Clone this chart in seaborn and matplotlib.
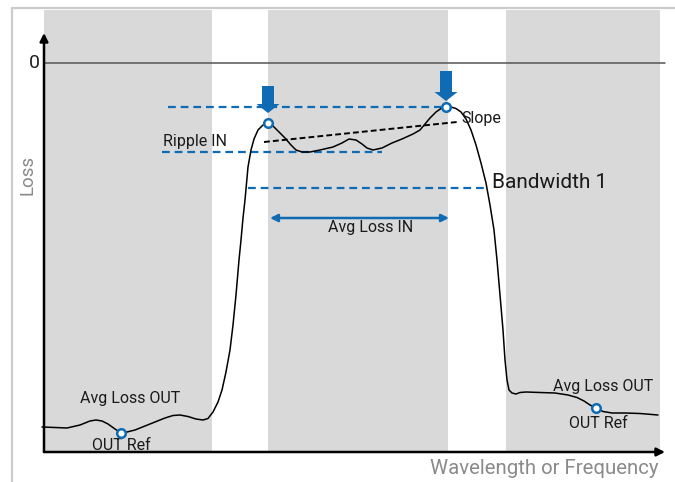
import matplotlib
matplotlib.use("Agg")
import matplotlib.pyplot as plt
from matplotlib.lines import Line2D
from matplotlib.patches import FancyArrow
import seaborn as sns
import pandas as pd

# Filter transmission trace (x: wavelength units, y: loss in dB, 0 at top)
trace_x = [-0.2, 1.1, 2.3, 3.6, 4.6, 5.2, 5.8, 6.4, 7.1, 7.7, 8.3, 9.1, 10.1, 11.1,
           12.1, 12.9, 13.6, 14.4, 15.2, 15.9, 16.4, 16.9, 17.4, 17.8, 18.2, 18.6,
           18.9, 19.2, 19.5, 19.7, 19.9, 20.1, 20.4, 20.7, 21.0, 21.4, 21.9, 22.4,
           22.9, 23.5, 24.1, 24.7, 25.2, 25.8, 26.6, 27.6, 28.9, 29.8, 30.5, 31.2,
           31.8, 32.3, 32.9, 33.8, 34.8, 35.8, 36.9, 37.6, 38.1, 38.6, 39.2, 39.7,
           40.2, 40.7, 41.2, 41.7, 42.2, 42.7, 43.2, 43.7, 44.2, 44.6, 45.0, 45.3,
           45.6, 45.9, 46.1, 46.3, 46.5, 46.8, 47.2, 47.6, 48.2, 49.6, 51.1, 52.4,
           53.3, 54.0, 54.6, 55.2, 55.9, 56.8, 58.1, 59.6, 61.4]
trace_y = [-36.4, -36.45, -36.5, -36.2, -35.8, -35.7, -35.8, -36.1, -36.6, -37.0,
           -36.9, -36.7, -36.3, -35.9, -35.5, -35.25, -35.2, -35.35, -35.6, -35.7,
           -35.55, -34.9, -33.9, -32.7, -30.9, -28.7, -26.2, -23.2, -19.7, -17.7,
           -15.5, -13.7, -10.4, -8.7, -7.6, -6.7, -6.2, -6.0, -6.3, -6.9, -7.5,
           -8.2, -8.7, -8.9, -8.9, -8.7, -8.4, -8.0, -7.6, -7.7, -8.1, -8.5, -8.7,
           -8.5, -8.0, -7.6, -7.1, -6.7, -6.1, -5.5, -4.9, -4.55, -4.4, -4.4, -4.55,
           -4.9, -5.6, -6.7, -8.2, -10.0, -12.0, -14.2, -16.7, -19.7, -23.2, -26.7,
           -29.7, -31.7, -32.7, -33.0, -33.1, -32.95, -32.9, -32.95, -33.0, -33.2,
           -33.45, -33.8, -34.2, -34.5, -34.85, -35.0, -35.0, -35.05, -35.2]

# Reference points: OUT Ref (left), first IN peak, IN max, OUT Ref (right)
ref_x = [7.7, 22.4, 40.2, 55.2]
ref_y = [-37.0, -6.0, -4.4, -34.5]

# Shaded bands (out-of-band / in-band / out-of-band)
band_start = [0.0, 22.4, 46.2]
band_end = [16.8, 40.4, 61.6]

# Level lines: max IN level, min IN level, bandwidth level
level_y = [-4.4, -8.9, -12.5]
level_x0 = [12.4, 11.8, 20.4]
level_x1 = [40.2, 33.8, 44.1]

# Average IN loss span
avg_in_x = [22.6, 40.5]
avg_in_y = -15.5

# Slope fit endpoints
slope_x = [22.0, 41.3]
slope_y = [-7.9, -5.9]

# Peak marker arrows: x, top, bottom
peak_arrow_x = [22.4, 40.2]
peak_arrow_top = [-2.3, -0.8]
peak_arrow_bottom = [-5.0, -3.8]

X_MAX, Y_MIN, Y_TOP, Y_AXIS_TOP = 63.1, -38.9, 5.3, 3.0

BLUE = "#0e6bb4"
GRAY_BAND = "#d9d9d9"
GRAY_TEXT = "#8a8a8a"

sns.set_style("white")
plt.rcParams["font.family"] = ["Roboto", "DejaVu Sans"]

W, H = 675, 482
fig = plt.figure(figsize=(W / 100, H / 100), dpi=100)
ax = fig.add_axes([44 / W, (H - 452) / H, (W - 44) / W, (452 - 10) / H])
ax.set_xlim(0, X_MAX)
ax.set_ylim(Y_MIN, Y_TOP)
ax.axis("off")

# Outer frame
fig.add_artist(Line2D([12 / W, 12 / W], [0, 1 - 8 / H], color="#cccccc", lw=1.6,
                      transform=fig.transFigure))
fig.add_artist(Line2D([12 / W, 1], [1 - 8 / H, 1 - 8 / H], color="#cccccc", lw=1.6,
                      transform=fig.transFigure))

for s, e in zip(band_start, band_end):
    ax.axvspan(s, e, color=GRAY_BAND, lw=0, zorder=0)

# Zero-loss line
ax.plot([0, 62.1], [0, 0], color="#555555", lw=1.1, zorder=1)
ax.text(-0.4, 0, "0", ha="right", va="center", fontsize=14, color="#222222")

# Axes arrows
arrow_kw = dict(arrowstyle="-|>", color="black", lw=1.8, mutation_scale=12,
                shrinkA=0, shrinkB=0)
ax.annotate("", xy=(0, Y_AXIS_TOP), xytext=(0, Y_MIN), arrowprops=arrow_kw,
            annotation_clip=False, zorder=4)
ax.annotate("", xy=(62.1, Y_MIN), xytext=(0, Y_MIN), arrowprops=arrow_kw,
            annotation_clip=False, zorder=4)

ax.text(-1.6, -11.2, "Loss", rotation=90, ha="center", va="center",
        fontsize=13.5, color=GRAY_TEXT)
ax.text(61.4, -40.5, "Wavelength or Frequency", ha="right", va="center",
        fontsize=14.7, color=GRAY_TEXT, clip_on=False)

# Blue dashed level lines
for y, x0, x1 in zip(level_y, level_x0, level_x1):
    ax.plot([x0, x1], [y, y], color=BLUE, lw=1.6, dashes=(3.5, 2.2), zorder=2)

# Slope line
ax.plot(slope_x, slope_y, color="black", lw=1.4, dashes=(3, 1.6), zorder=3)

# Average IN double arrow
ax.annotate("", xy=(avg_in_x[1], avg_in_y), xytext=(avg_in_x[0], avg_in_y),
            arrowprops=dict(arrowstyle="<|-|>", color=BLUE, lw=1.8,
                            mutation_scale=11, shrinkA=0, shrinkB=0), zorder=3)

# Trace
df = pd.DataFrame({"x": trace_x, "y": trace_y})
sns.lineplot(data=df, x="x", y="y", sort=False, estimator=None, color="black",
             lw=1.1, ax=ax, zorder=3)
ax.lines[-1].set_clip_on(False)

# Reference markers
sns.scatterplot(x=ref_x, y=ref_y, ax=ax, s=38, facecolor="white",
                edgecolor=BLUE, linewidth=1.8, zorder=5)

# Peak arrows
for x, t, b in zip(peak_arrow_x, peak_arrow_top, peak_arrow_bottom):
    ax.add_patch(FancyArrow(x, t, 0, b - t, width=1.2, head_width=2.3,
                            head_length=0.9, length_includes_head=True,
                            color=BLUE, lw=0, zorder=5))

ax.set_xlabel("")
ax.set_ylabel("")

# Annotations
lab_kw = dict(fontsize=11.5, color="#1a1a1a", va="center")
ax.text(11.9, -7.9, "Ripple IN", ha="left", **lab_kw)
ax.text(41.7, -5.6, "Slope", ha="left", **lab_kw)
ax.text(44.8, -11.9, "Bandwidth 1", ha="left", fontsize=15, color="#1a1a1a",
        va="center")
ax.text(32.7, -16.5, "Avg Loss IN", ha="center", **lab_kw)
ax.text(8.6, -33.6, "Avg Loss OUT", ha="center", **lab_kw)
ax.text(55.9, -32.3, "Avg Loss OUT", ha="center", **lab_kw)
ax.text(7.7, -38.2, "OUT Ref", ha="center", **lab_kw)
ax.text(55.4, -36.0, "OUT Ref", ha="center", **lab_kw)

fig.savefig("out.png", dpi=100)
